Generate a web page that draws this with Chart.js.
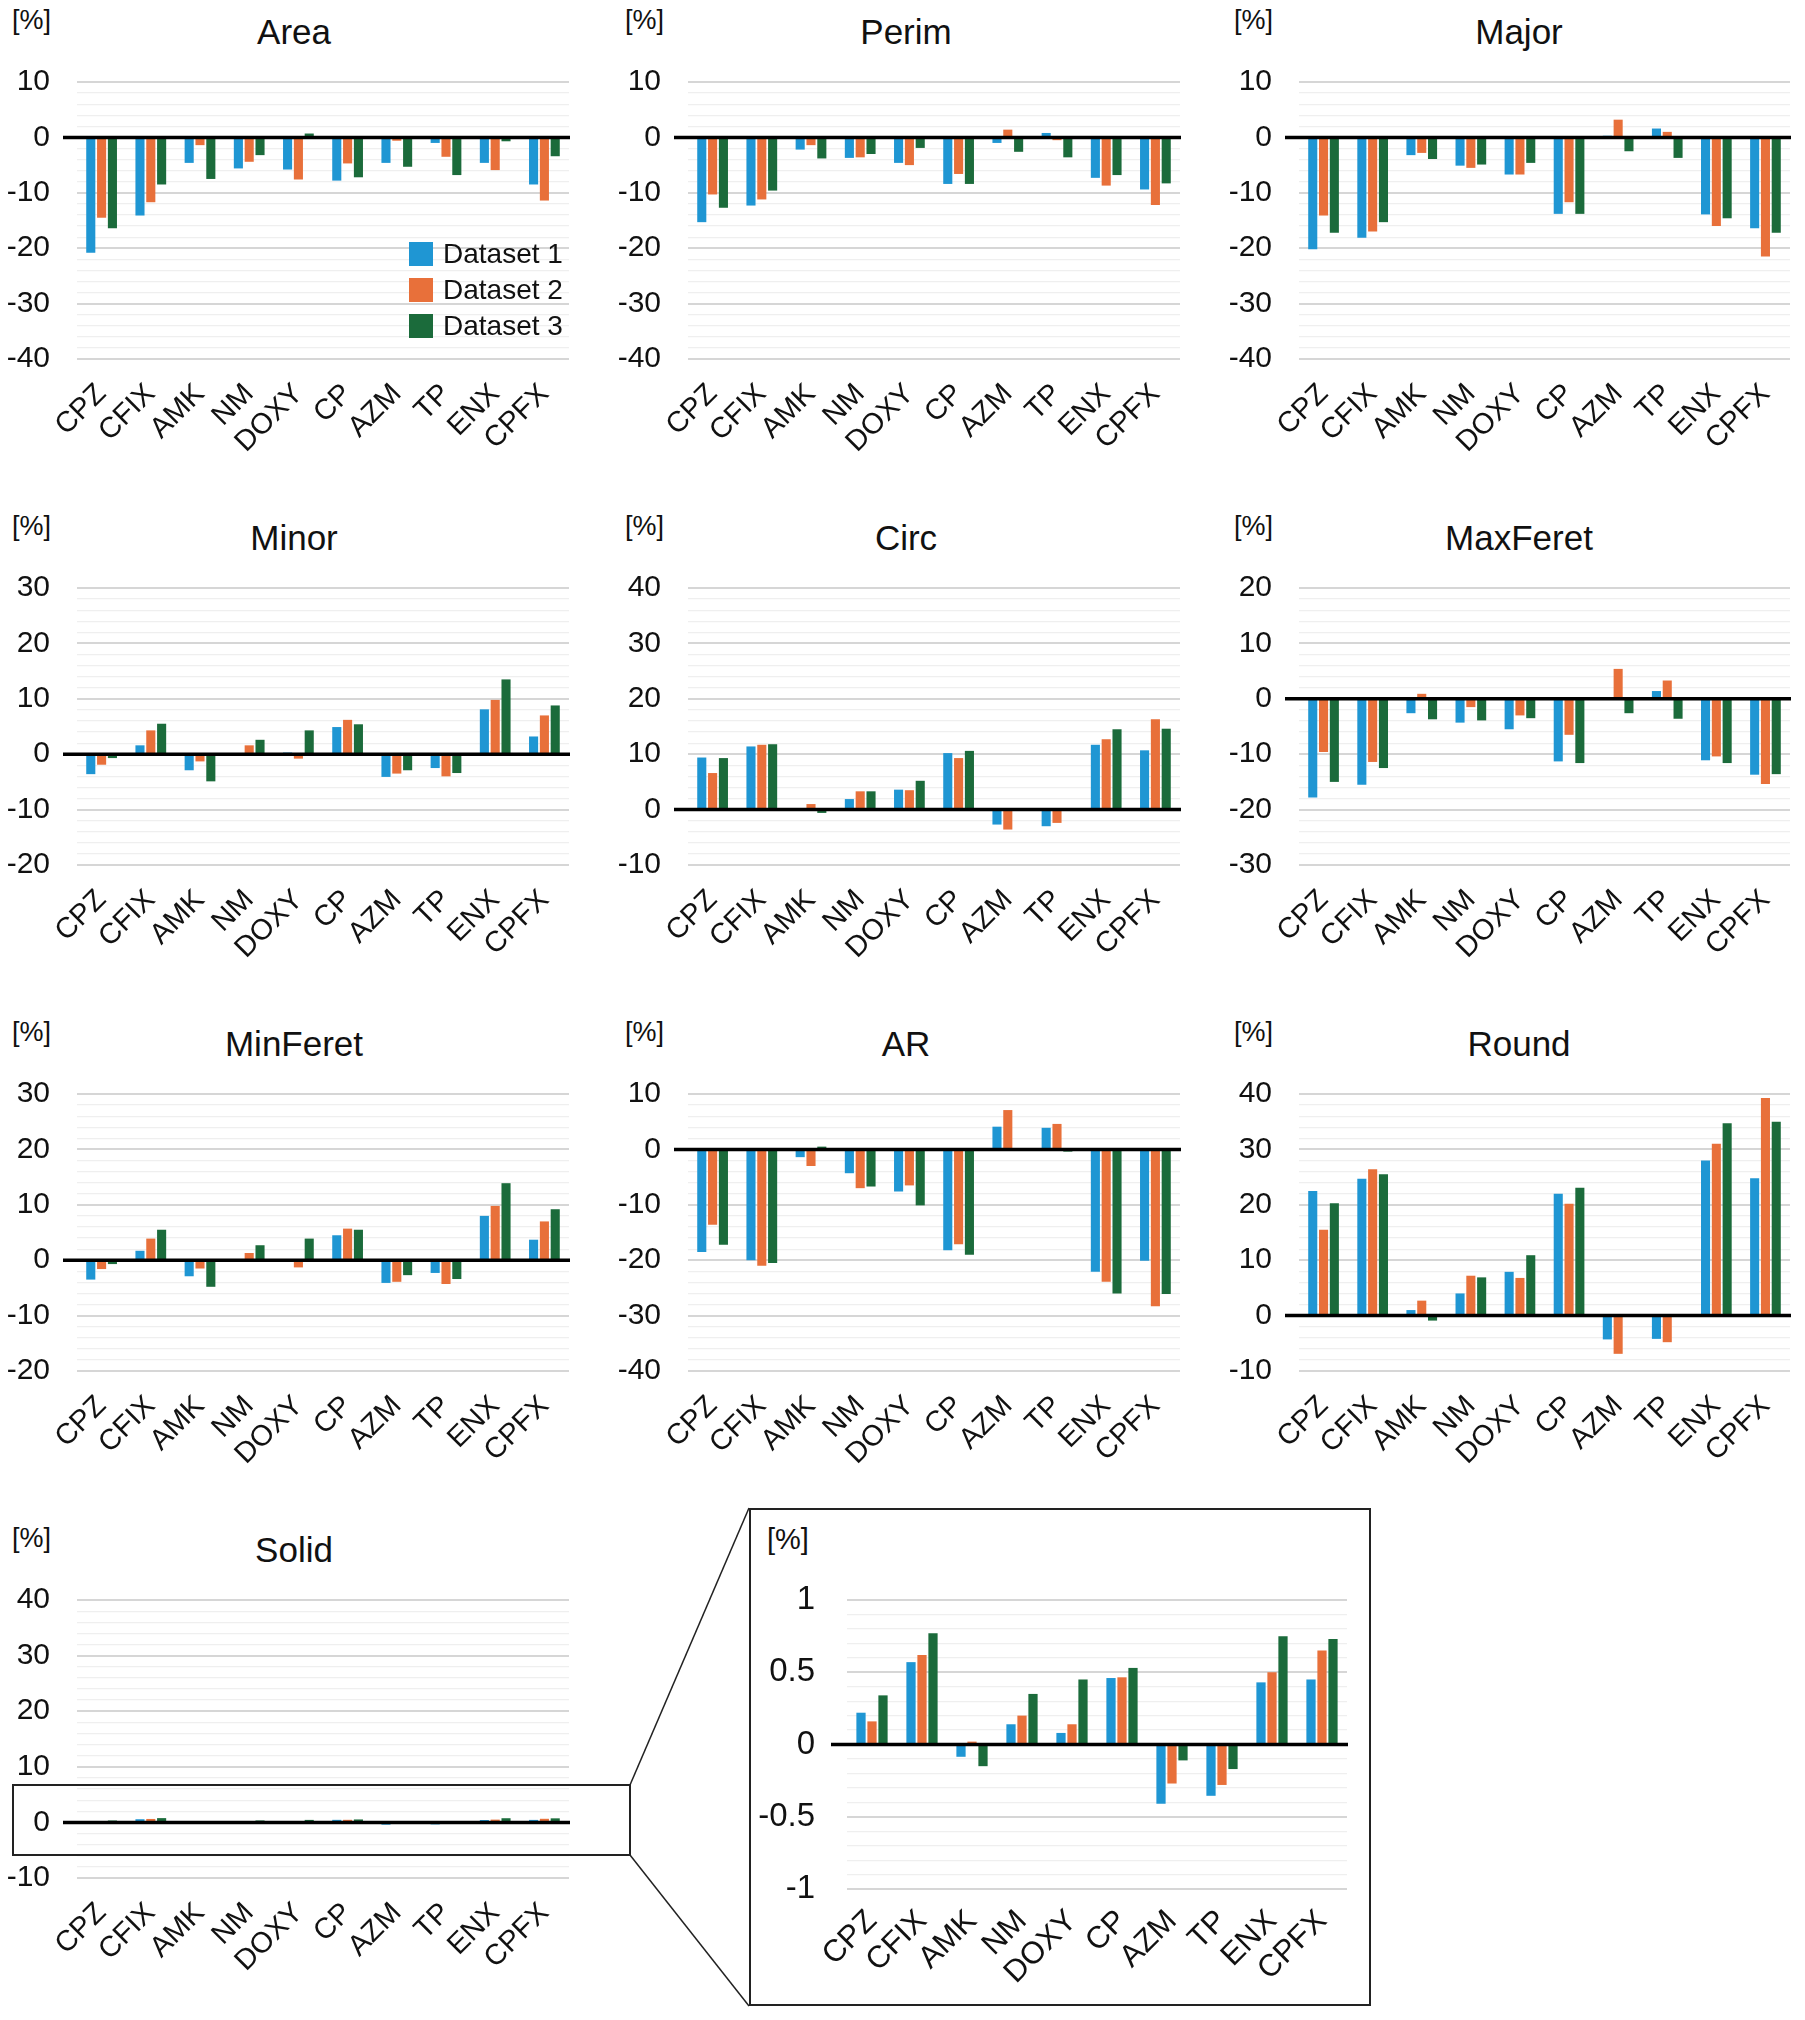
<!DOCTYPE html>
<html><head><meta charset="utf-8">
<script src="https://cdn.jsdelivr.net/npm/chart.js@4.4.1/dist/chart.umd.min.js"></script>
<style>
html,body{margin:0;padding:0;background:#fff;}
body{width:1805px;height:2020px;position:relative;overflow:hidden;font-family:"Liberation Sans",Arial,sans-serif;color:#111;}
.holder{position:absolute;}
.holder canvas{display:block;}
.unit{position:absolute;font-size:27px;line-height:1;white-space:nowrap;}
.unit.big{font-size:29px;}
.title{position:absolute;font-size:35px;line-height:1;white-space:nowrap;transform:translateX(-50%);}
#insetBox{position:absolute;left:749px;top:1508px;width:618px;height:494px;border:2px solid #222;background:#fff;}
#overlay{position:absolute;left:0;top:0;pointer-events:none;z-index:5;}
</style></head><body>
<div id="insetBox"></div>
<svg id="overlay" width="1805" height="2020">
  <rect x="13" y="1785" width="617" height="70" fill="none" stroke="#222" stroke-width="2"/>
  <line x1="630" y1="1785" x2="749" y2="1508" stroke="#222" stroke-width="1.5"/>
  <line x1="630" y1="1855" x2="749" y2="2006" stroke="#222" stroke-width="1.5"/>
</svg>
<script>
// ---------- DATA ----------
const categories = ['CPZ','CFIX','AMK','NM','DOXY','CP','AZM','TP','ENX','CPFX'];
const seriesLabels = ['Dataset 1','Dataset 2','Dataset 3'];
const seriesColors = ['#1f96d3','#e8703a','#1b6b3b'];

const area1 = [-20.8, -14.1, -4.6, -5.6, -5.8, -7.8, -4.6, -1.0, -4.6, -8.5];
const area2 = [-14.5, -11.7, -1.4, -4.4, -7.6, -4.7, -0.6, -3.5, -5.9, -11.4];
const area3 = [-16.4, -8.5, -7.5, -3.2, 0.7, -7.2, -5.3, -6.8, -0.7, -3.4];

const perim1 = [-15.3, -12.3, -2.2, -3.7, -4.6, -8.4, -1.0, 0.8, -7.3, -9.4];
const perim2 = [-10.3, -11.2, -1.4, -3.6, -5.0, -6.6, 1.4, -0.5, -8.7, -12.2];
const perim3 = [-12.7, -9.6, -3.8, -3.0, -1.9, -8.4, -2.6, -3.6, -6.8, -8.3];

const major1 = [-20.2, -18.1, -3.2, -5.1, -6.7, -13.8, 0.3, 1.6, -13.9, -16.4];
const major2 = [-14.1, -17.0, -2.8, -5.5, -6.7, -11.7, 3.2, 1.0, -16.0, -21.5];
const major3 = [-17.2, -15.3, -3.9, -4.9, -4.6, -13.8, -2.5, -3.7, -14.6, -17.2];

const minor1 = [-3.6, 1.6, -2.9, 0.0, 0.3, 4.9, -4.1, -2.5, 8.1, 3.2];
const minor2 = [-1.9, 4.3, -1.3, 1.6, -0.8, 6.2, -3.5, -4.0, 9.8, 7.0];
const minor3 = [-0.7, 5.5, -4.9, 2.6, 4.3, 5.4, -2.9, -3.4, 13.5, 8.8];

const circ1 = [9.4, 11.4, 0.0, 1.9, 3.6, 10.2, -2.7, -3.0, 11.7, 10.7];
const circ2 = [6.6, 11.7, 1.0, 3.3, 3.5, 9.3, -3.6, -2.4, 12.7, 16.3];
const circ3 = [9.3, 11.8, -0.6, 3.3, 5.2, 10.6, 0.0, 0.0, 14.5, 14.6];

const maxFeret1 = [-17.8, -15.5, -2.6, -4.3, -5.5, -11.3, 0.0, 1.4, -11.1, -13.7];
const maxFeret2 = [-9.6, -11.4, 0.9, -1.5, -3.0, -6.5, 5.4, 3.3, -10.4, -15.4];
const maxFeret3 = [-15.0, -12.5, -3.7, -3.9, -3.5, -11.6, -2.6, -3.6, -11.6, -13.6];

const minFeret1 = [-3.5, 1.7, -2.9, 0.0, 0.1, 4.5, -4.1, -2.3, 8.0, 3.7];
const minFeret2 = [-1.6, 3.9, -1.5, 1.3, -1.3, 5.7, -3.9, -4.3, 9.8, 7.0];
const minFeret3 = [-0.7, 5.5, -4.8, 2.7, 3.9, 5.5, -2.7, -3.4, 13.9, 9.2];

const ar1 = [-18.5, -20.0, -1.4, -4.3, -7.6, -18.2, 4.1, 3.9, -22.1, -20.1];
const ar2 = [-13.6, -21.0, -3.0, -7.0, -6.5, -17.1, 7.1, 4.6, -23.9, -28.3];
const ar3 = [-17.2, -20.5, 0.5, -6.7, -10.1, -19.0, 0.0, -0.4, -26.0, -26.1];

const round1 = [22.5, 24.7, 1.0, 4.0, 7.9, 22.0, -4.3, -4.2, 28.0, 24.8];
const round2 = [15.5, 26.4, 2.7, 7.2, 6.8, 20.2, -6.9, -4.8, 31.0, 39.3];
const round3 = [20.3, 25.5, -0.9, 6.9, 10.9, 23.1, 0.0, 0.0, 34.7, 35.0];

const solid1 = [0.22, 0.57, -0.085, 0.14, 0.08, 0.46, -0.41, -0.355, 0.43, 0.45];
const solid2 = [0.16, 0.62, 0.02, 0.20, 0.14, 0.465, -0.27, -0.28, 0.50, 0.65];
const solid3 = [0.34, 0.77, -0.15, 0.35, 0.45, 0.53, -0.11, -0.17, 0.75, 0.73];

// axis ranges [min, max, majorStep, minorStep]
const rangeM40to10 = [-40, 10, 10, 2];
const rangeM20to30 = [-20, 30, 10, 2];
const rangeM10to40 = [-10, 40, 10, 2];
const rangeM30to20 = [-30, 20, 10, 2];
const rangeInset   = [-1, 1, 0.5, 0.1];

// ---------- LAYOUT ----------
const COL_L = [77, 688, 1299], COL_R = [569, 1180, 1790];
const ROW_T = [82, 588, 1094, 1600], ROW_B = [359, 865, 1371, 1878];
const COL_TITLE = [294, 906, 1519], COL_UNIT = [12, 625, 1234];

const panels = [
  {title:'Area', series:[area1,area2,area3], range:rangeM40to10, col:0, row:0, legend:true},
  {title:'Perim', series:[perim1,perim2,perim3], range:rangeM40to10, col:1, row:0},
  {title:'Major', series:[major1,major2,major3], range:rangeM40to10, col:2, row:0},
  {title:'Minor', series:[minor1,minor2,minor3], range:rangeM20to30, col:0, row:1},
  {title:'Circ', series:[circ1,circ2,circ3], range:rangeM10to40, col:1, row:1},
  {title:'MaxFeret', series:[maxFeret1,maxFeret2,maxFeret3], range:rangeM30to20, col:2, row:1},
  {title:'MinFeret', series:[minFeret1,minFeret2,minFeret3], range:rangeM20to30, col:0, row:2},
  {title:'AR', series:[ar1,ar2,ar3], range:rangeM40to10, col:1, row:2},
  {title:'Round', series:[round1,round2,round3], range:rangeM10to40, col:2, row:2},
  {title:'Solid', series:[solid1,solid2,solid3], range:rangeM10to40, col:0, row:3}
];

const FONT = '"Liberation Sans", Arial, sans-serif';

const zeroLinePlugin = {
  id: 'zeroLine',
  afterDatasetsDraw(chart, args, opts) {
    const y = chart.scales.y.getPixelForValue(0);
    const ctx = chart.ctx;
    ctx.save();
    ctx.strokeStyle = '#000';
    ctx.lineWidth = 3.5;
    ctx.beginPath();
    ctx.moveTo(chart.chartArea.left - (opts.ext || 14), y);
    ctx.lineTo(chart.chartArea.right + 1, y);
    ctx.stroke();
    ctx.restore();
  }
};

const innerLegendPlugin = {
  id: 'innerLegend',
  afterDraw(chart, args, opts) {
    if (!opts.show) return;
    const ctx = chart.ctx;
    const ca = chart.chartArea;
    ctx.save();
    ctx.font = '28px ' + FONT;
    ctx.textBaseline = 'middle';
    ctx.textAlign = 'left';
    chart.data.datasets.forEach((ds, i) => {
      const x = ca.right - 160;
      const y = ca.bottom - 117 + i * 36;
      ctx.fillStyle = ds.backgroundColor;
      ctx.fillRect(x, y, 24, 24);
      ctx.fillStyle = '#111';
      ctx.fillText(ds.label, x + 34, y + 13);
    });
    ctx.restore();
  }
};

function fmt(v) { return String(Math.round(v * 10) / 10); }

function makeChart(opt) {
  const {gl, gr, gt, gb, range, series, legend, axisW, labPad, tickSize, catSize, xPad, zeroExt} = opt;
  const padTop = 58, padRight = 45, xH = 112;
  const width = (gr - gl) + axisW + padRight;
  const height = (gb - gt) + padTop + xH;
  const holder = document.createElement('div');
  holder.className = 'holder';
  holder.style.left = (gl - axisW) + 'px';
  holder.style.top = (gt - padTop) + 'px';
  holder.style.width = width + 'px';
  holder.style.height = height + 'px';
  holder.style.zIndex = opt.z || 1;
  const cv = document.createElement('canvas');
  holder.appendChild(cv);
  document.body.appendChild(holder);
  const [mn, mx, majorStep, minorStep] = range;
  const isMajor = v => Math.abs(v / majorStep - Math.round(v / majorStep)) < 1e-6;
  new Chart(cv, {
    type: 'bar',
    data: {
      labels: categories,
      datasets: series.map((d, i) => ({
        label: seriesLabels[i], data: d, backgroundColor: seriesColors[i],
        borderWidth: 0, categoryPercentage: 0.66, barPercentage: 0.84
      }))
    },
    options: {
      responsive: true, maintainAspectRatio: false, animation: false,
      layout: {padding: {top: padTop, right: padRight, left: 0, bottom: 0}, autoPadding: false},
      plugins: {legend: {display: false}, tooltip: {enabled: false}, title: {display: false},
        innerLegend: {show: !!legend}, zeroLine: {ext: zeroExt}},
      scales: {
        x: {
          grid: {display: false, drawTicks: false}, border: {display: false},
          ticks: {autoSkip: false, maxRotation: 45, minRotation: 45, padding: xPad,
            color: '#111', font: {family: FONT, size: catSize}},
          afterFit: s => { s.height = xH; }
        },
        y: {
          min: mn, max: mx,
          grid: {drawTicks: false,
            color: c => { const v = c.tick ? c.tick.value : 1; if (Math.abs(v) < 1e-9) return 'rgba(0,0,0,0)'; return isMajor(v) ? '#d6d6d6' : '#efefef'; },
            lineWidth: c => { const v = c.tick ? c.tick.value : 1; return isMajor(v) ? 2 : 1.2; }},
          border: {display: false},
          ticks: {stepSize: minorStep, autoSkip: false, maxTicksLimit: 1000, padding: labPad,
            color: '#111', font: {family: FONT, size: tickSize},
            callback: v => isMajor(v) ? fmt(v) : ''},
          afterFit: s => { s.width = axisW; }
        }
      }
    },
    plugins: [zeroLinePlugin, innerLegendPlugin]
  });
}

function addText(cls, txt, x, y) {
  const d = document.createElement('div');
  d.className = cls; d.textContent = txt;
  d.style.left = x + 'px'; d.style.top = y + 'px';
  document.body.appendChild(d);
}

panels.forEach(p => {
  makeChart({gl: COL_L[p.col], gr: COL_R[p.col], gt: ROW_T[p.row], gb: ROW_B[p.row],
    range: p.range, series: p.series, legend: p.legend, axisW: 77, labPad: 27,
    tickSize: 30, catSize: 29, xPad: 18, zeroExt: 14});
  addText('title', p.title, COL_TITLE[p.col], ROW_T[p.row] - 68);
  addText('unit', '[%]', COL_UNIT[p.col], ROW_T[p.row] - 75);
});

// inset (zoom of Solid)
makeChart({gl: 847, gr: 1347, gt: 1600, gb: 1889, range: rangeInset,
  series: [solid1, solid2, solid3], axisW: 96, labPad: 32, tickSize: 33, catSize: 31,
  xPad: 14, zeroExt: 16, z: 3});
addText('unit big', '[%]', 767, 1525);
</script>
</body></html>
